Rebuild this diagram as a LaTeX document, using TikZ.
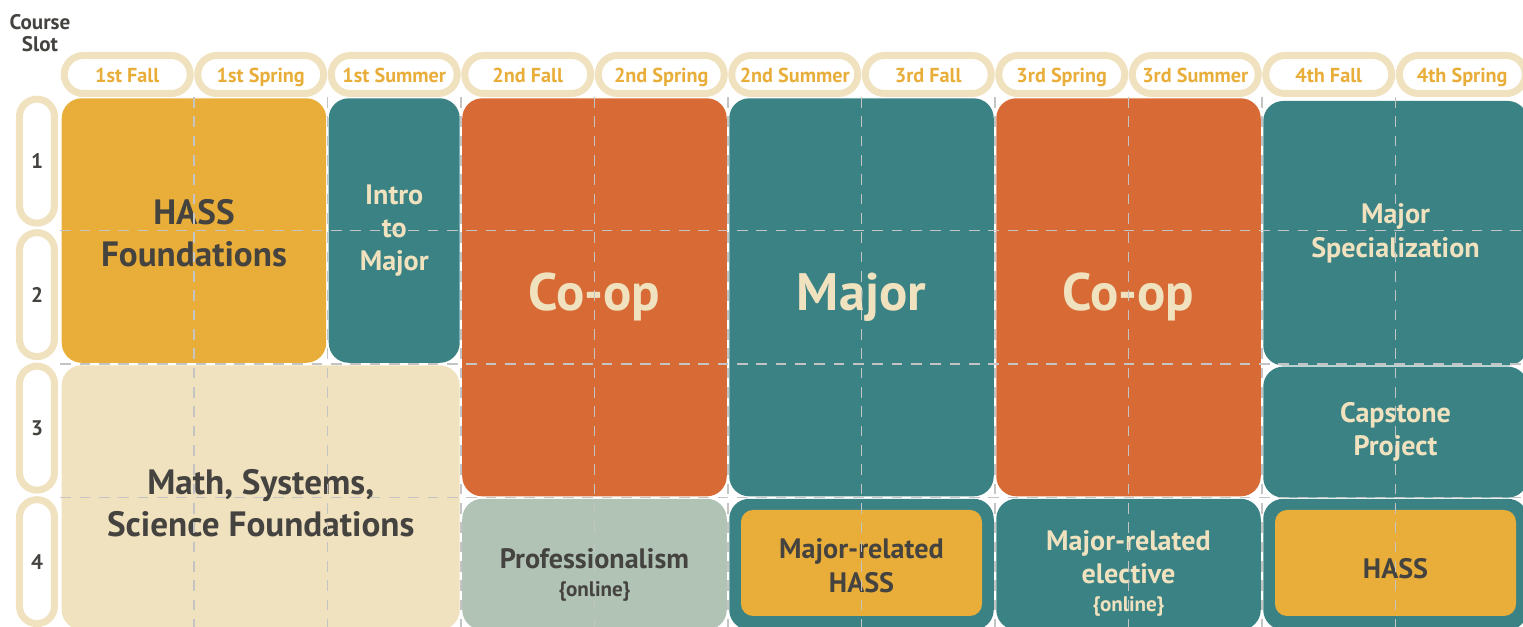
\documentclass[tikz,border=0pt]{standalone}
\usepackage{fontspec}
\setmainfont{PT Sans}

\definecolor{slotgold}{HTML}{E9AE3A}
\definecolor{slotteal}{HTML}{3A8284}
\definecolor{slotorange}{HTML}{D86A35}
\definecolor{slotbeige}{HTML}{F0E2BF}
\definecolor{slotsage}{HTML}{B0C3B5}
\definecolor{slotink}{HTML}{454340}
\definecolor{slotgrid}{HTML}{C4C4C4}

\begin{document}
\begin{tikzpicture}[x=2.67cm, y=-2.67cm,
	block/.style={rounded corners=0.4cm, inner sep=0pt, align=center, text=slotbeige},
	span/.style 2 args={minimum width=#1*2.67cm-0.05cm, minimum height=#2*2.67cm-0.05cm},
	inset/.style={rounded corners=0.24cm, fill=slotgold, inner sep=0pt, minimum width=4.82cm, minimum height=2.12cm},
	head/.style={draw=slotbeige, line width=0.14cm, fill=white, rounded corners=0.38cm, minimum width=2.52cm, minimum height=0.76cm, inner sep=0pt, text height=9.5pt, text depth=0pt, text=slotgold, font=\bfseries\fontsize{11.5}{13}\selectfont},
	slot/.style={draw=slotbeige, line width=0.14cm, fill=white, rounded corners=0.35cm, minimum width=0.7cm, minimum height=2.48cm, inner sep=0pt, text=slotink, font=\bfseries\fontsize{12}{14}\selectfont},
	grid line/.style={slotgrid, line width=0.8pt, dash pattern=on 6pt off 5pt},
	bigtext/.style={font=\bfseries\fontsize{30}{36}\selectfont},
	midtext/.style={font=\bfseries\fontsize{20}{24}\selectfont},
	smalltext/.style={align=center, font=\bfseries\fontsize{16}{19}\selectfont}]

	\useasboundingbox (-0.453,-0.727) rectangle (10.955,3.963);

	% column heads
	\node [head] (fall1)   at (0.5,-0.169)  {1st Fall};
	\node [head] (spring1) at (1.5,-0.169)  {1st Spring};
	\node [head] (summer1) at (2.5,-0.169)  {1st Summer};
	\node [head] (fall2)   at (3.5,-0.169)  {2nd Fall};
	\node [head] (spring2) at (4.5,-0.169)  {2nd Spring};
	\node [head] (summer2) at (5.5,-0.169)  {2nd Summer};
	\node [head] (fall3)   at (6.5,-0.169)  {3rd Fall};
	\node [head] (spring3) at (7.5,-0.169)  {3rd Spring};
	\node [head] (summer3) at (8.5,-0.169)  {3rd Summer};
	\node [head] (fall4)   at (9.5,-0.169)  {4th Fall};
	\node [head] (spring4) at (10.5,-0.169) {4th Spring};

	% course slots
	\node [align=center, text=slotink, font=\bfseries\fontsize{12}{13}\selectfont] (slottitle) at (-0.154,-0.479) {Course\\Slot};
	\node [slot] (slot1) at (-0.176,0.48) {1};
	\node [slot] (slot2) at (-0.176,1.48) {2};
	\node [slot] (slot3) at (-0.176,2.48) {3};
	\node [slot] (slot4) at (-0.176,3.48) {4};

	% blocks
	\node [block, span={2}{2}, fill=slotgold] (hassfound) at (1,1) {};
	\node [text=slotink, align=center, midtext] (hassfoundtext) at (1,1.02) {HASS\\Foundations};
	\node [block, span={1}{2}, fill=slotteal, smalltext] (intro) at (2.5,1) {Intro\\to\\Major};
	\node [block, span={2}{3}, fill=slotorange, bigtext] (coop1) at (4,1.5) {Co-op};
	\node [block, span={2}{3}, fill=slotteal, bigtext] (major) at (6,1.5) {Major};
	\node [block, span={2}{3}, fill=slotorange, bigtext] (coop2) at (8,1.5) {Co-op};
	\node [block, span={2}{2}, fill=slotteal, smalltext] (special) at (10,1.02) {Major\\Specialization};
	\node [block, span={3}{2}, fill=slotbeige] (mathsci) at (1.5,3) {};
	\node [text=slotink, align=center, midtext] (mathscitext) at (1.5,3.04) {Math, Systems,\\Science Foundations};
	\node [block, span={2}{1}, fill=slotsage] (prof) at (4,3.5) {};
	\node [text=slotink, smalltext] (proftext) at (4,3.58) {Professionalism\\[-3pt]\fontsize{12}{14}\selectfont\{online\}};
	\node [block, span={2}{1}, fill=slotteal] (relhass) at (6,3.5) {};
	\node [inset] (relhassin) at (6,3.49) {};
	\node [text=slotink, smalltext] (relhasstext) at (6,3.51) {Major-related\\HASS};
	\node [block, span={2}{1}, fill=slotteal] (elective) at (8,3.5) {};
	\node [text=slotbeige, smalltext] (electivetext) at (8,3.57) {Major-related\\elective\\[-3pt]\fontsize{12}{14}\selectfont\{online\}};
	\node [block, span={2}{1}, fill=slotteal, smalltext] (capstone) at (10,2.51) {Capstone\\Project};
	\node [block, span={2}{1}, fill=slotteal] (hass) at (10,3.5) {};
	\node [inset] (hassin) at (10,3.49) {};
	\node [text=slotink, smalltext] (hasstext) at (10,3.53) {HASS};

	% grid
	\draw [grid line] (1,0) -- (1,4) (2,0) -- (2,4) (3,0) -- (3,4) (4,0) -- (4,4) (5,0) -- (5,4)
		(6,0) -- (6,4) (7,0) -- (7,4) (8,0) -- (8,4) (9,0) -- (9,4) (10,0) -- (10,4);
	\draw [grid line] (0,1) -- (11,1) (0,2) -- (11,2) (0,3) -- (11,3);
\end{tikzpicture}
\end{document}
